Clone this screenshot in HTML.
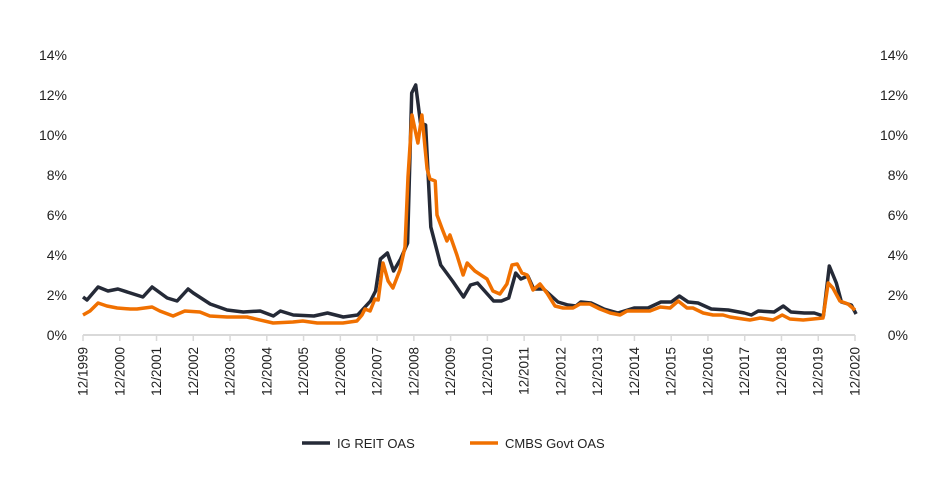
<!DOCTYPE html>
<html><head><meta charset="utf-8"><style>
html,body{margin:0;padding:0;background:#fff;}
svg{display:block;font-family:"Liberation Sans",Arial,sans-serif;}
</style></head><body>
<svg id="chart" width="940" height="481"></svg>
<script>
const yearTicks = [1999,2000,2001,2002,2003,2004,2005,2006,2007,2008,2009,2010,2011,2012,2013,2014,2015,2016,2017,2018,2019,2020];
const yTicks = [0,2,4,6,8,10,12,14];
const reitDates = [1999.92,2000.03,2000.33,2000.6,2000.87,2001.55,2001.8,2002.21,2002.48,2002.78,2002.92,2003.38,2003.84,2004.28,2004.74,2005.1,2005.29,2005.64,2006.2,2006.57,2007.0,2007.39,2007.74,2007.88,2008.01,2008.2,2008.37,2008.56,2008.75,2008.86,2008.97,2009.1,2009.24,2009.38,2009.65,2009.97,2010.27,2010.46,2010.65,2011.09,2011.3,2011.5,2011.69,2011.83,2012.02,2012.18,2012.45,2012.84,2013.11,2013.33,2013.46,2013.74,2014.09,2014.47,2014.91,2015.29,2015.64,2015.92,2016.14,2016.38,2016.65,2017.01,2017.47,2017.91,2018.1,2018.29,2018.72,2018.97,2019.18,2019.54,2019.81,2020.06,2020.22,2020.41,2020.55,2020.82,2020.95];
const reitVals = [1.9,1.75,2.4,2.2,2.3,1.9,2.4,1.85,1.7,2.3,2.1,1.55,1.25,1.15,1.2,0.95,1.2,1.0,0.95,1.1,0.9,1.0,1.7,2.2,3.8,4.1,3.2,3.8,4.6,12.1,12.5,10.6,10.5,5.4,3.5,2.7,1.9,2.5,2.6,1.7,1.7,1.85,3.1,2.8,2.95,2.3,2.3,1.65,1.5,1.45,1.65,1.6,1.3,1.1,1.35,1.35,1.65,1.65,1.95,1.65,1.6,1.3,1.25,1.1,1.0,1.2,1.15,1.45,1.15,1.1,1.1,0.95,3.45,2.6,1.65,1.5,1.05];
const cmbsDates = [1999.92,2000.11,2000.33,2000.57,2000.85,2001.2,2001.39,2001.8,2002.01,2002.37,2002.69,2003.1,2003.37,2003.84,2004.38,2005.09,2005.63,2005.9,2006.29,2006.56,2006.99,2007.37,2007.51,2007.59,2007.73,2007.86,2007.95,2008.08,2008.22,2008.35,2008.54,2008.68,2008.76,2008.87,2009.03,2009.14,2009.28,2009.36,2009.5,2009.55,2009.69,2009.82,2009.9,2010.09,2010.26,2010.37,2010.58,2010.91,2011.07,2011.26,2011.45,2011.59,2011.73,2011.86,2012.0,2012.16,2012.35,2012.54,2012.76,2012.98,2013.25,2013.44,2013.71,2013.98,2014.26,2014.53,2014.72,2015.07,2015.34,2015.62,2015.89,2016.11,2016.35,2016.51,2016.79,2017.06,2017.33,2017.52,2017.87,2018.06,2018.34,2018.69,2018.94,2019.15,2019.51,2019.78,2020.05,2020.19,2020.32,2020.51,2020.73,2020.92];
const cmbsVals = [1.0,1.2,1.6,1.45,1.35,1.3,1.3,1.4,1.2,0.95,1.2,1.15,0.95,0.9,0.9,0.6,0.65,0.7,0.6,0.6,0.6,0.7,1.0,1.3,1.2,1.8,1.75,3.6,2.7,2.35,3.25,4.4,7.9,11.0,9.6,11.0,8.3,7.8,7.7,6.0,5.3,4.7,5.0,4.0,3.0,3.6,3.2,2.8,2.2,2.05,2.55,3.5,3.55,3.1,3.0,2.25,2.55,2.1,1.45,1.35,1.35,1.55,1.55,1.3,1.1,1.0,1.2,1.2,1.2,1.4,1.35,1.7,1.35,1.35,1.1,1.0,1.0,0.9,0.8,0.75,0.85,0.75,1.0,0.8,0.75,0.8,0.85,2.6,2.35,1.7,1.55,1.25];

const NS = 'http://www.w3.org/2000/svg';
const svg = document.getElementById('chart');
const X0 = 83, X1 = 855, T0 = 1999.92, T1 = 2020.92;
const Y0 = 335, YPER = 20;
function xs(t){ return X0 + (t - T0) / (T1 - T0) * (X1 - X0); }
function ys(v){ return Y0 - v * YPER; }
function mk(tag, attrs, parent){
  const e = document.createElementNS(NS, tag);
  for (const k in attrs) e.setAttribute(k, attrs[k]);
  (parent || svg).appendChild(e);
  return e;
}
const axis = mk('line', {x1:X0, x2:X1, y1:Y0, y2:Y0, stroke:'#d9d9d9', 'stroke-width':2});


yearTicks.forEach(y => {
  const x = xs(y + 0.92);
  const tk = mk('line', {x1:x, x2:x, y1:Y0, y2:Y0+6, stroke:'#d9d9d9', 'stroke-width':1.5});
  
  
  const tx = mk('text', {x:0, y:0, transform:`translate(${x+4.5},${Y0+12}) rotate(-90)`, 'text-anchor':'end', 'font-size':13.5, fill:'#222'});
  tx.textContent = '12/' + y;
  
  
});
yTicks.forEach(v => {
  const l = mk('text', {x:67, y:ys(v)+5, 'text-anchor':'end', 'font-size':14, fill:'#222'});
  l.textContent = v + '%';
  
  
  const r = mk('text', {x:908, y:ys(v)+5, 'text-anchor':'end', 'font-size':14, fill:'#222'});
  r.textContent = v + '%';
  
  
});
function path(dates, vals){
  const n = Math.min(dates.length, vals.length);
  let d = '';
  for (let i = 0; i < n; i++) d += (i ? 'L' : 'M') + xs(dates[i]).toFixed(1) + ',' + ys(vals[i]).toFixed(1);
  return d;
}
const p1 = mk('path', {d:path(reitDates, reitVals), fill:'none', stroke:'#252a37', 'stroke-width':3.5, 'stroke-linejoin':'round'});


const p2 = mk('path', {d:path(cmbsDates, cmbsVals), fill:'none', stroke:'#f07000', 'stroke-width':3.5, 'stroke-linejoin':'round'});


const legend = [['IG REIT OAS','#252a37',302],['CMBS Govt OAS','#f07000',470]];
legend.forEach(([name,color,x]) => {
  const g = mk('g', {});
  
  
  mk('line', {x1:x, x2:x+28, y1:443, y2:443, stroke:color, 'stroke-width':3.5}, g);
  const t = mk('text', {x:x+35, y:448, 'font-size':13, fill:'#222'}, g);
  t.textContent = name;
});
</script>
</body></html>
